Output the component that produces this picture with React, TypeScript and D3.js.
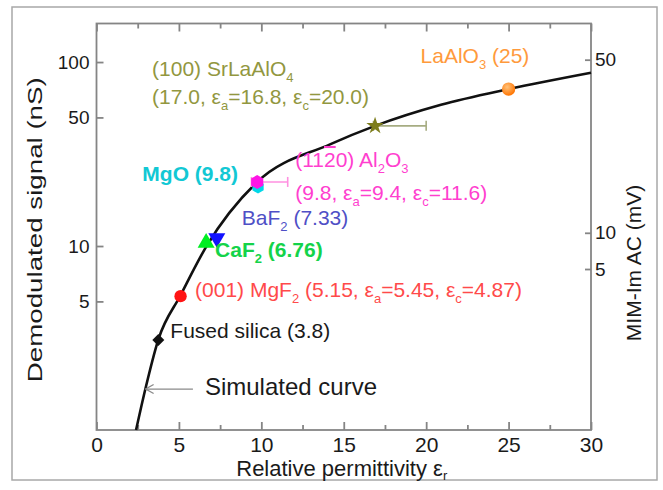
import { useRef, useEffect } from 'react'
import * as d3 from 'd3'

const materials = ['Fused silica', 'MgF2', 'CaF2', 'BaF2', 'MgO', 'Al2O3', 'SrLaAlO4', 'LaAlO3']
const permittivity = [3.75, 5.1, 6.65, 7.3, 9.8, 9.75, 16.9, 25.0]
const signalNS = [3.08, 5.34, 10.4, 11.05, 20.9, 22.3, 45.0, 71.3]

// anisotropic crystals: eps_a .. eps_c spread drawn as a bar
const spreadMaterials = ['Al2O3', 'SrLaAlO4']
const spreadLow = [9.4, 16.8]
const spreadHigh = [11.6, 20.0]

// Simulated curve
const curveEps = [2.4, 2.95, 3.75, 5.1, 6.65, 9.75, 14.2, 16.9, 20.9, 25.0, 30.0]
const curveNS = [1.0, 1.65, 3.1, 5.4, 9.9, 22.3, 35.8, 45.0, 58.6, 71.3, 87.5]

// Axes
const xTicks = [0, 5, 10, 15, 20, 25, 30]
const leftTicks = [5, 10, 50, 100]
const rightTicks = [5, 10, 50]
const rightTickNS = [7.5, 11.8, 103] // where the mV ticks sit on the nS axis

const FONT = '"Liberation Sans", Arial, sans-serif'

export default function App() {
    const svgRef = useRef<SVGSVGElement>(null)

    useEffect(() => {
        if (!svgRef.current) return
        const svg = d3.select(svgRef.current)
        svg.selectAll('*').remove()

        const width = 663
        const height = 490
        const plot = { left: 96.5, right: 591, top: 23.5, bottom: 430 }
        const axisColor = '#858585'

        const x = d3.scaleLinear().domain([0, 30]).range([plot.left, plot.right])
        const y = d3.scaleLog().domain([1, 162]).range([plot.bottom, plot.top])
        const yRight = d3.scaleLog().domain(rightTicks).range(rightTickNS.map(v => y(v)))

        svg.attr('width', width).attr('height', height).style('font-family', FONT)

        const defs = svg.append('defs')
        const grad = defs.append('radialGradient').attr('id', 'laGrad')
            .attr('cx', '40%').attr('cy', '35%').attr('r', '65%')
        grad.append('stop').attr('offset', '0%').attr('stop-color', '#ffc27a')
        grad.append('stop').attr('offset', '100%').attr('stop-color', '#ff7400')

        // outer frame
        svg.append('rect')
            .attr('x', 12).attr('y', 7).attr('width', 645).attr('height', 473)
            .attr('fill', 'white').attr('stroke', '#a8a8a8').attr('stroke-width', 1.5)

        const styleAxis = (g: any) => {
            g.select('.domain').remove()
            g.selectAll('line').attr('stroke', axisColor).attr('stroke-width', 1.8)
            g.selectAll('text').attr('fill', '#1a1a1a').attr('font-family', FONT)
        }

        const xMinor = xTicks.slice(1).map(t => t - 2.5)

        // bottom axis
        svg.append('g')
            .attr('transform', `translate(0,${plot.bottom})`)
            .call(d3.axisBottom(x).tickValues(xTicks).tickSize(-8).tickSizeOuter(0).tickPadding(7))
            .call(styleAxis)
            .selectAll('text').attr('font-size', 21)
        svg.append('g')
            .attr('transform', `translate(0,${plot.bottom})`)
            .call(d3.axisBottom(x).tickValues(xMinor).tickSize(-5).tickSizeOuter(0).tickFormat(() => ''))
            .call(styleAxis)

        // top axis (ticks only)
        svg.append('g')
            .attr('transform', `translate(0,${plot.top})`)
            .call(d3.axisTop(x).tickValues(xTicks).tickSize(-8).tickSizeOuter(0).tickFormat(() => ''))
            .call(styleAxis)
        svg.append('g')
            .attr('transform', `translate(0,${plot.top})`)
            .call(d3.axisTop(x).tickValues(xMinor).tickSize(-5).tickSizeOuter(0).tickFormat(() => ''))
            .call(styleAxis)

        // left axis
        svg.append('g')
            .attr('transform', `translate(${plot.left},0)`)
            .call(d3.axisLeft(y).tickValues(leftTicks).tickSize(-7).tickSizeOuter(0).tickPadding(7)
                .tickFormat(d => `${d}`))
            .call(styleAxis)
            .selectAll('text').attr('font-size', 19)

        // right axis
        svg.append('g')
            .attr('transform', `translate(${plot.right},0)`)
            .call(d3.axisRight(yRight).tickValues(rightTicks).tickSize(-6).tickSizeOuter(0).tickPadding(4)
                .tickFormat(d => `${d}`))
            .call(styleAxis)
            .selectAll('text').attr('font-size', 19)

        // plot box
        svg.append('rect')
            .attr('x', plot.left).attr('y', plot.top)
            .attr('width', plot.right - plot.left).attr('height', plot.bottom - plot.top)
            .attr('fill', 'none').attr('stroke', axisColor).attr('stroke-width', 1.8)

        // axis titles
        const xt = svg.append('text')
            .attr('x', (plot.left + plot.right) / 2 - 2).attr('y', 476)
            .attr('text-anchor', 'middle').attr('font-size', 22).attr('fill', '#1a1a1a')
        xt.append('tspan').text('Relative permittivity \u03b5')
        xt.append('tspan').attr('font-size', 13).attr('dy', 4).text('r')

        svg.append('text')
            .attr('transform', `translate(42,${(plot.top + plot.bottom) / 2 + 3}) rotate(-90)`)
            .attr('text-anchor', 'middle').attr('font-size', 21).attr('fill', '#1a1a1a')
            .attr('textLength', 305).attr('lengthAdjust', 'spacingAndGlyphs')
            .text('Demodulated signal (nS)')

        svg.append('text')
            .attr('transform', `translate(641,263) rotate(-90)`)
            .attr('text-anchor', 'middle').attr('font-size', 21).attr('fill', '#1a1a1a')
            .text('MIM-Im AC (mV)')

        // simulated curve
        const line = d3.line<number>()
            .x((d, i) => x(curveEps[i]))
            .y(d => y(d))
            .curve(d3.curveMonotoneX)
        svg.append('path')
            .datum(curveNS)
            .attr('d', line)
            .attr('fill', 'none').attr('stroke', '#111').attr('stroke-width', 2.6)

        // spread bars
        const spreadColor: Record<string, string> = { Al2O3: '#ff90e0', SrLaAlO4: '#a6ac82' }
        spreadMaterials.forEach((m, i) => {
            const k = materials.indexOf(m)
            const yy = y(signalNS[k])
            const g = svg.append('g').attr('stroke', spreadColor[m]).attr('stroke-width', 1.6)
            g.append('line').attr('x1', x(spreadLow[i])).attr('x2', x(spreadHigh[i])).attr('y1', yy).attr('y2', yy)
            ;[spreadLow[i], spreadHigh[i]].forEach(v => {
                g.append('line').attr('x1', x(v)).attr('x2', x(v)).attr('y1', yy - 5).attr('y2', yy + 5)
            })
        })

        // markers
        const hexagon = (r: number) => {
            const pts = d3.range(6).map(k => {
                const a = Math.PI / 6 + k * Math.PI / 3
                return [r * Math.cos(a), r * Math.sin(a)] as [number, number]
            })
            return d3.line().curve(d3.curveLinearClosed)(pts) as string
        }
        const markers: Record<string, { d: string, fill: string, rot?: number }> = {
            'Fused silica': { d: d3.symbol(d3.symbolSquare, 72)() as string, fill: '#111', rot: 45 },
            MgF2: { d: d3.symbol(d3.symbolCircle, 120)() as string, fill: '#ff1414' },
            CaF2: { d: d3.symbol(d3.symbolTriangle, 125)() as string, fill: '#00ee22' },
            BaF2: { d: d3.symbol(d3.symbolTriangle, 125)() as string, fill: '#1212ff', rot: 180 },
            MgO: { d: hexagon(6.5), fill: '#00d8e8' },
            Al2O3: { d: hexagon(7), fill: '#ff14e6' },
            SrLaAlO4: { d: d3.symbol(d3.symbolStar, 95)() as string, fill: '#7d7d1c' },
            LaAlO3: { d: d3.symbol(d3.symbolCircle, 140)() as string, fill: 'url(#laGrad)' },
        }
        materials.forEach((m, i) => {
            const mk = markers[m]
            svg.append('path')
                .attr('d', mk.d)
                .attr('fill', mk.fill)
                .attr('transform', `translate(${x(permittivity[i])},${y(signalNS[i])}) rotate(${mk.rot || 0})`)
        })

        // annotations: parts are [text, kind], kind '' | 'sub' | 'over'
        const pos = (m: string) => {
            const k = materials.indexOf(m)
            return [x(permittivity[k]), y(signalNS[k])]
        }
        const label = (parts: [string, string?][], px: number, py: number, color: string,
            opts: { size?: number, weight?: string, anchor?: string } = {}) => {
            const t = svg.append('text')
                .attr('x', px).attr('y', py)
                .attr('fill', color)
                .attr('font-size', opts.size || 21)
                .attr('font-weight', opts.weight || 'normal')
                .attr('text-anchor', opts.anchor || 'start')
            let lowered = false
            parts.forEach(([s, kind]) => {
                const ts = t.append('tspan').text(s)
                if (kind === 'sub') {
                    ts.attr('font-size', 13)
                    if (!lowered) { ts.attr('dy', 6); lowered = true }
                } else {
                    if (lowered) { ts.attr('dy', -6); lowered = false }
                    if (kind === 'over') ts.style('text-decoration', 'overline')
                }
            })
            return t
        }

        let [px, py] = pos('SrLaAlO4')
        const olive = '#92973f'
        label([['(100) SrLaAlO'], ['4', 'sub']], px - 223, py - 50, olive)
        label([['(17.0, \u03b5'], ['a', 'sub'], ['=16.8, \u03b5'], ['c', 'sub'], ['=20.0)']], px - 223, py - 21.5, olive)

        ;[px, py] = pos('LaAlO3')
        label([['LaAlO'], ['3', 'sub'], [' (25)']], px - 88, py - 26, '#ff9a3c')

        ;[px, py] = pos('MgO')
        label([['MgO (9.8)']], px - 20, py - 6, '#12c8d4', { weight: 'bold', anchor: 'end' })

        ;[px, py] = pos('Al2O3')
        const magenta = '#ff3fcf'
        label([['(11'], ['2', 'over'], ['0) Al'], ['2', 'sub'], ['O'], ['3', 'sub']], px + 38, py - 15, magenta)
        label([['(9.8, \u03b5'], ['a', 'sub'], ['=9.4, \u03b5'], ['c', 'sub'], ['=11.6)']], px + 38, py + 18.5, magenta)

        ;[px, py] = pos('BaF2')
        label([['BaF'], ['2', 'sub'], [' (7.33)']], px + 25, py - 13, '#4f4fc6')

        ;[px, py] = pos('CaF2')
        label([['CaF'], ['2', 'sub'], [' (6.76)']], px + 9, py + 14, '#14d34a', { weight: 'bold' })

        ;[px, py] = pos('MgF2')
        label([['(001) MgF'], ['2', 'sub'], [' (5.15, \u03b5'], ['a', 'sub'], ['=5.45, \u03b5'], ['c', 'sub'], ['=4.87)']],
            px + 14.5, py + 1, '#ff4a4a')

        ;[px, py] = pos('Fused silica')
        label([['Fused silica (3.8)']], px + 12, py - 2, '#1a1a1a')

        // "Simulated curve" pointer
        const tip = [x(2.98), y(1.67)]
        const tail = [x(5.85), y(1.67)]
        const arrow = svg.append('g').attr('stroke', '#8a8a8a').attr('stroke-width', 1.3).attr('fill', 'none')
        arrow.append('line').attr('x1', tail[0]).attr('y1', tail[1]).attr('x2', tip[0]).attr('y2', tip[1])
        arrow.append('path').attr('d', `M${tip[0] + 8},${tip[1] - 4.5}L${tip[0]},${tip[1]}L${tip[0] + 8},${tip[1] + 4.5}`)
        label([['Simulated curve']], tail[0] + 12, tail[1] + 6, '#1a1a1a', { size: 24 })
    }, [])

    return (
        <svg ref={svgRef} style={{ position: 'absolute', left: 0, top: 0 }} />
    )
}
